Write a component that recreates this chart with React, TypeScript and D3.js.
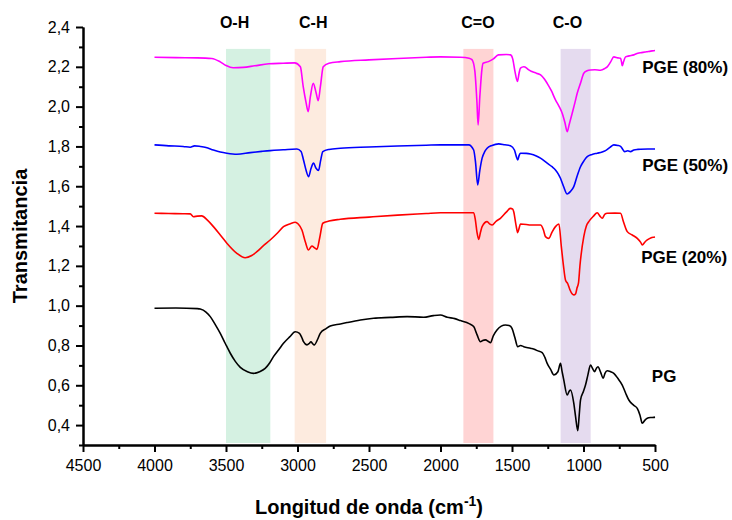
import React, { useRef, useEffect } from 'react';
import * as d3 from 'd3';

// [wavenumber cm-1, transmitancia]
const pge80: [number, number][] = [
  [4000, 2.248], [3850, 2.246], [3700, 2.245], [3600, 2.242], [3540, 2.225], [3500, 2.207], [3450, 2.195],
  [3380, 2.197], [3300, 2.205], [3200, 2.215], [3100, 2.218], [3020, 2.22], [2980, 2.2], [2960, 2.1],
  [2940, 2.02], [2925, 1.975], [2910, 2.05], [2890, 2.117], [2870, 2.07], [2855, 2.03], [2840, 2.1],
  [2820, 2.2], [2780, 2.218], [2700, 2.226], [2500, 2.235], [2300, 2.242], [2100, 2.248], [2000, 2.25],
  [1860, 2.248], [1800, 2.243], [1780, 2.236], [1760, 2.18], [1745, 2.02], [1737, 1.908], [1725, 2.05],
  [1710, 2.19], [1702, 2.218], [1665, 2.226], [1630, 2.24], [1595, 2.26], [1540, 2.262], [1510, 2.26],
  [1495, 2.24], [1480, 2.18], [1462, 2.126], [1450, 2.17], [1441, 2.193], [1418, 2.2], [1400, 2.195],
  [1390, 2.188], [1360, 2.176], [1330, 2.168], [1300, 2.159], [1275, 2.14], [1254, 2.117], [1225, 2.08],
  [1196, 2.034], [1170, 2.0], [1149, 1.967], [1130, 1.92], [1114, 1.874], [1100, 1.91], [1079, 1.967],
  [1060, 2.02], [1044, 2.067], [1020, 2.12], [998, 2.168], [975, 2.18], [951, 2.184], [920, 2.185],
  [881, 2.183], [850, 2.192], [834, 2.2], [810, 2.225], [788, 2.25], [760, 2.245], [741, 2.243],
  [733, 2.22], [729, 2.205], [720, 2.225], [706, 2.25], [680, 2.255], [648, 2.26], [620, 2.268],
  [601, 2.271], [570, 2.274], [554, 2.276], [530, 2.279], [508, 2.281], [500, 2.282],
];

const pge50: [number, number][] = [
  [4000, 1.808], [3900, 1.803], [3800, 1.8], [3750, 1.796], [3720, 1.803], [3680, 1.8], [3640, 1.795],
  [3588, 1.782], [3540, 1.772], [3494, 1.766], [3424, 1.761], [3330, 1.769], [3250, 1.775], [3190, 1.779],
  [3100, 1.783], [3004, 1.787], [2975, 1.775], [2958, 1.732], [2940, 1.68], [2923, 1.648], [2905, 1.69],
  [2888, 1.716], [2870, 1.69], [2853, 1.679], [2838, 1.73], [2823, 1.774], [2780, 1.785], [2700, 1.791],
  [2500, 1.797], [2300, 1.802], [2100, 1.806], [2000, 1.808], [1803, 1.808], [1768, 1.782], [1755, 1.72],
  [1740, 1.607], [1725, 1.68], [1709, 1.741], [1690, 1.775], [1674, 1.791], [1640, 1.805], [1593, 1.813],
  [1550, 1.808], [1511, 1.803], [1483, 1.782], [1470, 1.75], [1460, 1.732], [1450, 1.755], [1441, 1.766],
  [1400, 1.765], [1371, 1.762], [1330, 1.752], [1301, 1.741], [1254, 1.716], [1220, 1.698], [1196, 1.682],
  [1175, 1.66], [1161, 1.64], [1140, 1.6], [1114, 1.561], [1090, 1.575], [1068, 1.598], [1045, 1.65],
  [1021, 1.698], [995, 1.73], [974, 1.749], [940, 1.76], [904, 1.766], [870, 1.772], [846, 1.779],
  [815, 1.795], [788, 1.808], [760, 1.805], [741, 1.8], [725, 1.785], [713, 1.774], [690, 1.778],
  [671, 1.774], [648, 1.782], [620, 1.785], [601, 1.786], [550, 1.787], [508, 1.787], [500, 1.787],
];

const pge20: [number, number][] = [
  [4000, 1.464], [3900, 1.463], [3800, 1.462], [3750, 1.461], [3728, 1.447], [3700, 1.45], [3670, 1.451],
  [3630, 1.43], [3588, 1.397], [3540, 1.355], [3494, 1.314], [3424, 1.263], [3366, 1.241], [3320, 1.252],
  [3284, 1.271], [3240, 1.3], [3191, 1.33], [3140, 1.365], [3098, 1.397], [3050, 1.412], [3016, 1.419],
  [2995, 1.41], [2969, 1.38], [2945, 1.32], [2923, 1.28], [2899, 1.3], [2880, 1.29], [2864, 1.283],
  [2845, 1.34], [2823, 1.414], [2780, 1.425], [2701, 1.434], [2500, 1.445], [2300, 1.455], [2100, 1.463],
  [2001, 1.467], [1768, 1.467], [1756, 1.43], [1745, 1.37], [1733, 1.333], [1720, 1.37], [1709, 1.397],
  [1674, 1.422], [1655, 1.41], [1639, 1.405], [1610, 1.425], [1581, 1.439], [1540, 1.47], [1511, 1.489],
  [1495, 1.485], [1488, 1.472], [1472, 1.405], [1460, 1.367], [1450, 1.39], [1441, 1.41], [1400, 1.408],
  [1371, 1.405], [1301, 1.405], [1280, 1.38], [1266, 1.347], [1242, 1.338], [1220, 1.37], [1196, 1.397],
  [1172, 1.41], [1155, 1.297], [1140, 1.2], [1126, 1.129], [1110, 1.11], [1095, 1.08], [1080, 1.06],
  [1068, 1.054], [1055, 1.06], [1045, 1.09], [1035, 1.114], [1025, 1.2], [998, 1.347], [980, 1.4],
  [963, 1.422], [930, 1.45], [904, 1.467], [885, 1.45], [869, 1.439], [850, 1.46], [834, 1.464],
  [780, 1.465], [741, 1.464], [720, 1.42], [694, 1.372], [659, 1.355], [624, 1.338], [600, 1.318],
  [589, 1.305], [570, 1.32], [554, 1.33], [530, 1.34], [508, 1.344], [500, 1.345],
];

const pg: [number, number][] = [
  [4000, 0.987], [3850, 0.988], [3700, 0.985], [3680, 0.983], [3640, 0.968], [3610, 0.945], [3575, 0.905],
  [3540, 0.861], [3505, 0.81], [3470, 0.761], [3435, 0.72], [3400, 0.69], [3350, 0.668], [3308, 0.66],
  [3265, 0.668], [3226, 0.685], [3195, 0.712], [3168, 0.744], [3130, 0.78], [3098, 0.811], [3055, 0.843],
  [3016, 0.869], [2986, 0.861], [2970, 0.84], [2958, 0.819], [2934, 0.803], [2918, 0.81], [2906, 0.819],
  [2895, 0.81], [2883, 0.803], [2860, 0.83], [2841, 0.861], [2800, 0.885], [2771, 0.898], [2700, 0.908],
  [2654, 0.915], [2560, 0.928], [2468, 0.937], [2350, 0.941], [2234, 0.945], [2118, 0.942], [2050, 0.95],
  [2001, 0.953], [1953, 0.942], [1900, 0.935], [1860, 0.925], [1800, 0.91], [1768, 0.895], [1744, 0.853],
  [1721, 0.819], [1705, 0.825], [1686, 0.828], [1665, 0.82], [1651, 0.814], [1630, 0.85], [1605, 0.878],
  [1575, 0.897], [1546, 0.903], [1520, 0.9], [1500, 0.886], [1480, 0.84], [1460, 0.794], [1440, 0.8],
  [1418, 0.794], [1371, 0.786], [1340, 0.78], [1324, 0.774], [1289, 0.764], [1270, 0.74], [1254, 0.71],
  [1230, 0.68], [1207, 0.652], [1179, 0.668], [1161, 0.71], [1150, 0.67], [1138, 0.627], [1114, 0.551],
  [1100, 0.57], [1091, 0.576], [1068, 0.51], [1055, 0.44], [1040, 0.372], [1030, 0.45], [1021, 0.526],
  [1000, 0.57], [986, 0.601], [970, 0.65], [951, 0.702], [937, 0.685], [923, 0.668], [910, 0.685],
  [899, 0.693], [880, 0.665], [862, 0.635], [850, 0.66], [834, 0.673], [810, 0.668], [788, 0.66],
  [760, 0.635], [729, 0.601], [705, 0.56], [683, 0.526], [650, 0.5], [624, 0.484], [605, 0.45],
  [589, 0.409], [570, 0.425], [554, 0.434], [530, 0.438], [508, 0.439], [500, 0.44],
];

const seriesNames = ['PGE (80%)', 'PGE (50%)', 'PGE (20%)', 'PG'];
const seriesColors = ['#ff00ff', '#0000ff', '#ff0000', '#000000'];

// absorption bands [from, to] in cm-1, with label
const bandNames = ['O-H', 'C-H', 'C=O', 'C-O'];
const bandRanges: [number, number][] = [[3500, 3190], [3020, 2800], [1840, 1630], [1160, 950]];
const bandPeaks = [3440, 2890, 1738, 1112];
const bandColors = ['#d5f1e2', '#fdebdf', '#ffd4d4', '#e5dbef'];

const xTicks = [4500, 4000, 3500, 3000, 2500, 2000, 1500, 1000, 500];
const yTicks = [0.4, 0.6, 0.8, 1.0, 1.2, 1.4, 1.6, 1.8, 2.0, 2.2, 2.4];

export default function App() {
  const svgWidth = 732;
  const svgHeight = 520;
  const ref = useRef<SVGSVGElement>(null);

  useEffect(() => {
    if (!ref.current) return;
    const font = "'Liberation Sans', Arial, sans-serif";
    const margin = { top: 27, right: 77, bottom: 75, left: 83 };
    const width = svgWidth - margin.left - margin.right;
    const height = svgHeight - margin.top - margin.bottom;

    const root = d3.select(ref.current);
    root.selectAll('*').remove();
    const svg = root.append('g').attr('transform', `translate(${margin.left},${margin.top})`);

    const x = d3.scaleLinear().domain([4500, 500]).range([0, width]);
    const y = d3.scaleLinear().domain([0.3, 2.4]).range([height, 0]);

    // bands
    bandRanges.forEach((r, i) => {
      svg.append('rect')
        .attr('x', x(r[0]))
        .attr('width', x(r[1]) - x(r[0]))
        .attr('y', y(2.29))
        .attr('height', y(0.31) - y(2.29))
        .attr('fill', bandColors[i]);
      svg.append('text')
        .attr('x', x(bandPeaks[i]))
        .attr('y', 1)
        .attr('text-anchor', 'middle')
        .style('font-family', font)
        .style('font-weight', 'bold')
        .style('font-size', '16px')
        .text(bandNames[i]);
    });

    const line = d3.line<[number, number]>()
      .x((d) => x(d[0]))
      .y((d) => y(d[1]))
      .curve(d3.curveMonotoneX);

    const series = [pge80, pge50, pge20, pg];
    series.forEach((s, i) => {
      svg.append('path')
        .datum(s)
        .attr('fill', 'none')
        .attr('stroke', seriesColors[i])
        .attr('stroke-width', 1.6)
        .attr('stroke-linejoin', 'round')
        .attr('d', line);
    });

    // series labels
    const labelAt: [number, number][] = [[590, 2.168], [590, 1.677], [597, 1.216], [522, 0.618]];
    seriesNames.forEach((n, i) => {
      svg.append('text')
        .attr('x', x(labelAt[i][0]))
        .attr('y', y(labelAt[i][1]))
        .style('font-family', font)
        .style('font-weight', 'bold')
        .style('font-size', '17px')
        .text(n);
    });

    // axes
    const xAxis = d3.axisBottom(x).tickValues(xTicks).tickSize(7).tickPadding(8).tickSizeOuter(0)
      .tickFormat(d3.format('d') as any);
    const xMinor = d3.axisBottom(x).tickValues(d3.range(4250, 500, -500)).tickSize(4).tickSizeOuter(0)
      .tickFormat(() => '');
    const yAxis = d3.axisLeft(y).tickValues(yTicks).tickSize(7).tickPadding(6).tickSizeOuter(0)
      .tickFormat((d) => d3.format('.1f')(d as number).replace('.', ','));
    const yMinor = d3.axisLeft(y).tickValues(d3.range(0.3, 2.35, 0.2)).tickSize(4).tickSizeOuter(0)
      .tickFormat(() => '');

    const gx = svg.append('g').attr('transform', `translate(0,${height})`);
    gx.append('g').call(xMinor);
    gx.append('g').call(xAxis);
    const gy = svg.append('g');
    gy.append('g').call(yMinor);
    gy.append('g').call(yAxis);

    svg.selectAll('.domain, .tick line').attr('stroke', '#000').attr('stroke-width', 2);
    svg.selectAll('.tick text')
      .attr('fill', '#000')
      .style('font-family', font)
      .style('font-size', '16px');

    svg.append('text')
      .attr('text-anchor', 'middle')
      .attr('transform', 'rotate(-90)')
      .attr('x', -height / 2)
      .attr('y', -56)
      .style('font-family', font)
      .style('font-weight', 'bold')
      .style('font-size', '20px')
      .text('Transmitancia');

    const xt = svg.append('text')
      .attr('text-anchor', 'middle')
      .attr('x', width / 2)
      .attr('y', height + 69)
      .style('font-family', font)
      .style('font-weight', 'bold')
      .style('font-size', '20px');
    xt.append('tspan').text('Longitud de onda (cm');
    xt.append('tspan').attr('dy', -8).style('font-size', '14px').text('-1');
    xt.append('tspan').attr('dy', 8).text(')');
  }, []);

  return (
    <svg
      ref={ref}
      width={svgWidth}
      height={svgHeight}
      style={{ position: 'absolute', left: 0, top: 0, background: '#fff' }}
    />
  );
}
